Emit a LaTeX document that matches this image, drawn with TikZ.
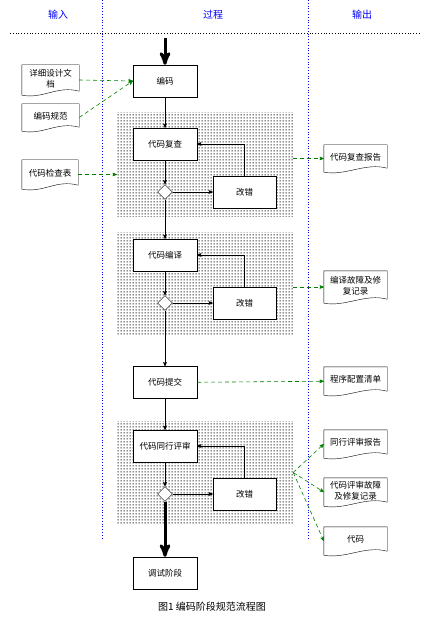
\documentclass[tikz,border=0pt]{standalone}
\usepackage{fontspec}
\newfontfamily\cjk{Noto Sans CJK SC}
\usetikzlibrary{arrows}
\usetikzlibrary{patterns}
\usetikzlibrary{shapes.geometric}
\usepackage{xcolor}
\definecolor{flowgreen}{RGB}{0,128,0}

% square dots, 3pt apart
\pgfdeclarepatternformonly{griddots}{\pgfpointorigin}{\pgfpoint{3pt}{3pt}}{\pgfpoint{3pt}{3pt}}{
 \pgfpathrectangle{\pgfpoint{0.9pt}{0.9pt}}{\pgfpoint{1.2pt}{1.2pt}}
 \pgfusepath{fill}
}

\tikzset{
 stepbox/.style={draw, fill=white, minimum width=64, minimum height=32, inner sep=1, font=\cjk\fontsize{8.5}{10}\selectfont},
 fixbox/.style={stepbox, minimum width=63},
 check/.style={draw, fill=white, diamond, minimum size=15, inner sep=0},
 region/.style={pattern=griddots, minimum width=176, minimum height=103, inner sep=0},
 doctext/.style={inner sep=1, align=center, font=\cjk\fontsize{8.5}{11}\selectfont},
 docline/.style={draw, fill=white},
 head/.style={text=blue, font=\cjk\fontsize{10}{12}\selectfont},
 caption/.style={font=\cjk\fontsize{10}{12}\selectfont},
 flow/.style={->, semithick},
 bigarrow/.style={->, line width=3},
 docflow/.style={->, flowgreen, semithick, dash pattern=on 4pt off 3pt}
}

% document shape with a wavy lower edge
\newcommand\docnode[5]{%
 \node[doctext, minimum width=#3, minimum height=#4] (#1) at (#2) {};
 \draw[docline] (#1.north west) -- (#1.north east) -- ([yshift=4]#1.south east)
  .. controls ([xshift=-22, yshift=10]#1.south east) and ([xshift=22, yshift=-4]#1.south west) .. (#1.south west) -- cycle;
 \node[doctext] at ([yshift=1.5]#1.center) {#5};
}

\begin{document}
\begin{tikzpicture}[x=1pt, y=-1pt, >=stealth']
\useasboundingbox (0,0) rectangle (420,620);
% header
\node[head] (hin) at (58,15) {输入};
\node[head] (hproc) at (213,15) {过程};
\node[head] (hout) at (362,15) {输出};
\draw[dotted, thick] (10,33) -- (420,33);
\foreach \x in {102,308}
 \draw[blue, dotted, thick] (\x,0) -- (\x,540);

% shaded areas
\foreach \n/\y in {reg1/164.5, reg2/283.5, reg3/472.5}
 \node[region] (\n) at (205,\y) {};

% process
\node[stepbox] (code) at (165,81) {编码};
\node[stepbox] (review) at (165,144) {代码复查};
\node[stepbox] (compile) at (165,255) {代码编译};
\node[stepbox] (submit) at (165,382.5) {代码提交};
\node[stepbox] (peer) at (165,446) {代码同行评审};
\node[stepbox] (debug) at (165,573) {调试阶段};
\foreach \i/\y in {1/192, 2/303, 3/494} {
 \node[fixbox] (fix\i) at (244.5,\y) {改错};
 \node[check] (d\i) at (165,\y) {};
}

% flow
\coordinate (start) at (165,38);
\draw[bigarrow] (start) -- (code);
\draw[flow] (code) -- (review);
\draw[flow] (review) -- (d1);
\draw[flow] (d1) -- (compile);
\draw[flow] (compile) -- (d2);
\draw[flow] (d2) -- (submit);
\draw[flow] (submit) -- (peer);
\draw[flow] (peer) -- (d3);
\draw[bigarrow] (d3) -- (debug);
\foreach \i/\b in {1/review, 2/compile, 3/peer} {
 \draw[flow] (d\i) -- (fix\i);
 \draw[flow] (fix\i.north) |- (\b.east);
}

% inputs
\docnode{design}{50.5,80}{57}{30}{详细设计文\\档}
\docnode{rules}{50.5,117.5}{57}{27}{编码规范}
\docnode{checklist}{50,174.5}{56}{29}{代码检查表}
% outputs
\docnode{rrep}{355.5,158.5}{63}{27}{代码复查报告}
\docnode{crec}{355.5,287}{63}{32}{编译故障及修\\复记录}
\docnode{cfg}{355.5,381}{63}{28}{程序配置清单}
\docnode{prep}{355.5,444}{63}{28}{同行评审报告}
\docnode{prec}{355.5,492}{63}{28}{代码评审故障\\及修复记录}
\docnode{src}{355.5,541}{63}{28}{代码}

\draw[docflow] (design.east) -- (code.west);
\draw[docflow] (rules.east) -- (code.west);
\draw[docflow] (checklist.east) -- (checklist.east -| reg1.west);
\draw[docflow] (rrep.west -| reg1.east) -- (rrep.west);
\draw[docflow] (crec.west -| reg2.east) -- (crec.west);
\draw[docflow] (submit) -- (cfg);
\foreach \o in {prep, prec, src}
 \draw[docflow] (reg3.east) -- (\o.west);

\node[caption] (title) at (212,607) {图1 编码阶段规范流程图};
\end{tikzpicture}
\end{document}
